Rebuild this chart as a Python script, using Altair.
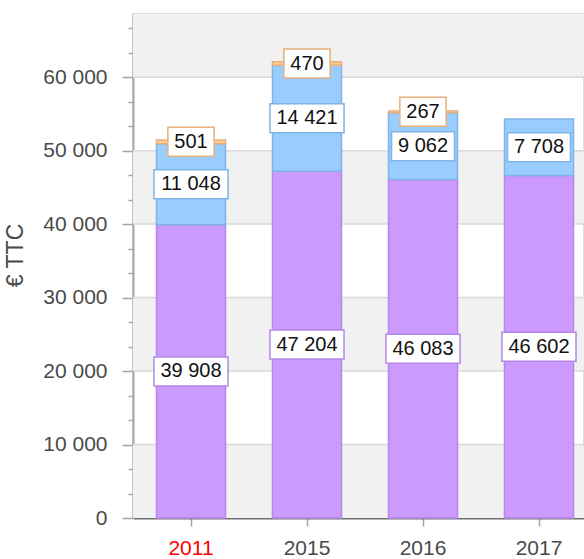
import altair as alt
import pandas as pd

# ---- data ----
years = ["2011", "2015", "2016", "2017"]
series = ["Série 1", "Série 2", "Série 3"]          # bottom -> top
purple_vals = [39908, 47204, 46083, 46602]
blue_vals = [11048, 14421, 9062, 7708]
orange_vals = [501, 470, 267, None]

band_lo = [0, 20000, 40000, 60000]
band_hi = [10000, 30000, 50000, 68600]
grid_vals = [10000, 20000, 30000, 40000, 50000, 60000]
tick_vals = [round(i * 10000 / 3, 2) for i in range(21)]

YMAX = 68600
W, H = 451, 504
FONT = "Liberation Sans"

fills = ["#cc99ff", "#99ccff", "#ffcc99"]
strokes = ["#b388e8", "#80b3e6", "#e6b07c"]

rows = []
for i, y in enumerate(years):
    for k, vals in enumerate([purple_vals, blue_vals, orange_vals]):
        if vals[i] is not None:
            rows.append({"year": y, "serie": series[k], "order": k, "value": vals[i]})
df = pd.DataFrame(rows)
bands = pd.DataFrame({"lo": band_lo, "hi": band_hi})
grid = pd.DataFrame({"v": grid_vals})

xscale = alt.Scale(domain=years, range=[0, 464], paddingInner=0.405, paddingOuter=0.2025)
yscale = alt.Scale(domain=[0, YMAX], nice=False, zero=True)
cscale = alt.Scale(domain=series, range=fills)
sscale = alt.Scale(domain=series, range=strokes)

yaxis = alt.Axis(
    values=tick_vals,
    labelExpr="datum.value % 10000 == 0 ? replace(format(datum.value, ','), ',', ' ') : ''",
    tickSize={"condition": {"test": "datum.value % 10000 == 0", "value": 11}, "value": 5},
    grid=False,
    domainColor="#a6a6a6",
    domainWidth=2,
    tickColor="#a6a6a6",
    tickWidth=1.5,
    labelColor="#4a4a4a",
    labelFont=FONT,
    labelFontSize=21,
    labelPadding=15,
    labelOverlap=False,
    labelFlush=False,
    title="€ TTC",
    titleX=-106,
    titleY=241,
    titleAlign="center",
    titleAngle=270,
    titleBaseline="bottom",
    titleFont=FONT,
    titleFontSize=23,
    titleFontWeight="normal",
    titleColor="#4a4a4a",
)

xaxis = alt.Axis(
    title=None,
    labelAngle=0,
    tickSize=8,
    tickColor="#a6a6a6",
    tickWidth=1.5,
    domainColor="#6e6e6e",
    domainWidth=2,
    labelFont=FONT,
    labelFontSize=21,
    labelColor={"condition": {"test": "datum.label == '2011'", "value": "#ff0000"}, "value": "#4a4a4a"},
    labelPadding=11,
)

band_layer = alt.Chart(bands).mark_rect(color="#f1f1f1").encode(
    y=alt.Y("lo:Q", scale=yscale, axis=yaxis),
    y2="hi:Q",
    x=alt.value(0),
    x2=alt.value("width"),
)

grid_layer = alt.Chart(grid).mark_rule(color="#dadada", strokeWidth=1.5).encode(
    y=alt.Y("v:Q", scale=yscale, axis=yaxis),
    x=alt.value(0),
    x2=alt.value("width"),
)

base = alt.Chart(df).transform_stack(
    stack="value", groupby=["year"], sort=[alt.SortField("order", order="ascending")], as_=["y0", "y1"]
).transform_calculate(
    mid="(datum.y0 + datum.y1) / 2",
    label="replace(format(datum.value, ','), ',', ' ')",
).transform_calculate(
    lo=f"datum.mid - 14.5 * {YMAX} / {H}",
    hi=f"datum.mid + 14.5 * {YMAX} / {H}",
    boxw="length(datum.label) * 11.1 - (indexof(datum.label, ' ') >= 0 ? 5.55 : 0) + 13",
)

bars = base.mark_bar(strokeWidth=1.5).encode(
    x=alt.X("year:N", scale=xscale, axis=xaxis, sort=years),
    y=alt.Y("y0:Q", scale=yscale, axis=yaxis),
    y2="y1:Q",
    color=alt.Color("serie:N", scale=cscale, legend=None),
    stroke=alt.Stroke("serie:N", scale=sscale, legend=None),
)

boxes = base.mark_bar(fill="white", strokeWidth=1.5).encode(
    x=alt.X("year:N", scale=xscale, axis=xaxis, sort=years),
    y=alt.Y("lo:Q", scale=yscale, axis=yaxis),
    y2="hi:Q",
    size=alt.Size("boxw:Q", scale=None, legend=None),
    stroke=alt.Stroke("serie:N", scale=sscale, legend=None),
)

texts = base.mark_text(font=FONT, fontSize=20, color="#111111", baseline="middle", align="center").encode(
    x=alt.X("year:N", scale=xscale, axis=xaxis, sort=years),
    y=alt.Y("mid:Q", scale=yscale, axis=yaxis),
    text="label:N",
)

chart = alt.layer(band_layer, grid_layer, bars, boxes, texts).properties(
    width=W,
    height=H,
    autosize=alt.AutoSizeParams(type="none"),
    padding={"left": 133, "top": 14, "right": 0, "bottom": 41},
    background="white",
).configure_view(stroke="#d4d4d4", strokeWidth=1.5)

chart.save("out.html", embed_options={"renderer": "svg", "actions": False})
